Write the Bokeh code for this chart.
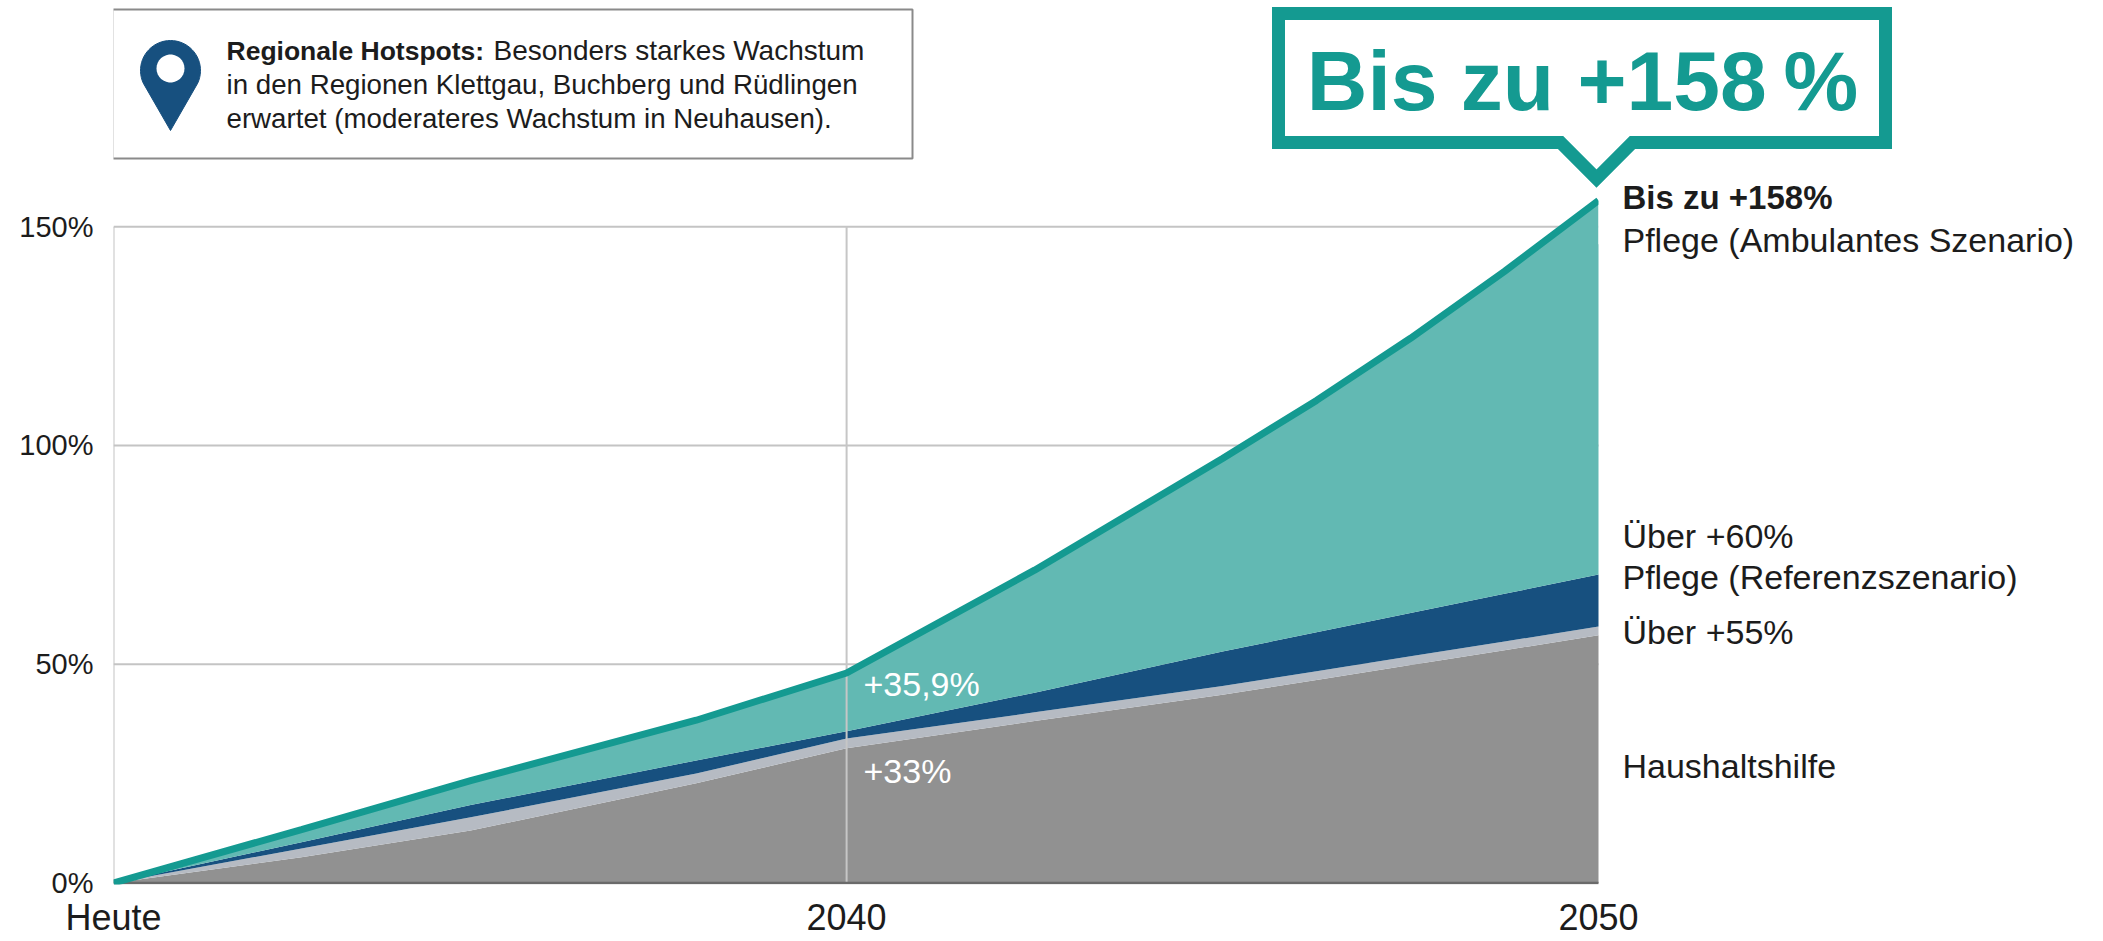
import math
from bokeh.plotting import figure
from bokeh.embed import file_html
from bokeh.resources import INLINE
from bokeh.models import Range1d, FixedTicker, Label, PolyAnnotation

# ---- data ----
years = [2030.25, 2032.75, 2035, 2038, 2040, 2042.5, 2045, 2046.25, 2047.5, 2048.75, 2050]
x_tick_values = [2030.25, 2040, 2050]
x_tick_labels = ["Heute", "2040", "2050"]
y_tick_values = [0, 50, 100, 150]
y_tick_labels = ["0%", "50%", "100%", "150%"]
ambulant = [0, 12.2, 23.4, 37.2, 48, 71.5, 97, 110.3, 124.5, 139.8, 156]
referenz = [0, 9.3, 17.8, 28, 34.7, 43.5, 52.9, 57.3, 61.7, 66.1, 70.5]
haushalt = [0, 7.9, 15, 25, 33, 39, 45, 48.4, 51.8, 55.2, 58.6]
haushalt_base = [0, 5.9, 12, 22.8, 30.8, 37, 43, 46.4, 49.8, 53.2, 56.6]
zeros = [0] * len(years)

TEAL_LINE = "#149A91"
TEAL_FILL = "#62B9B3"
BLUE = "#17507F"
LIGHT = "#B6BBC3"
GREY = "#919191"
INK = "#1c1c1c"
FONT = "Liberation Sans"

W, H = 2103, 941
FL, FB = 113, 884   # frame's left and bottom edge in page pixels; it runs on to the page's top right
PX_YEAR = (1598 - FL) / 19.75
PX_PCT = 4.375

p = figure(width=W, height=H, output_backend="svg", toolbar_location=None,
           x_range=Range1d(2030.25, 2030.25 + (W - FL) / PX_YEAR),
           y_range=Range1d(-0.35, FB / PX_PCT - 0.35),
           min_border_left=FL, min_border_right=0,
           min_border_top=0, min_border_bottom=H - FB)
p.background_fill_color = "white"
p.border_fill_color = "white"
p.outline_line_color = None
p.xgrid.visible = False
p.ygrid.visible = False

# axes
p.xaxis.ticker = FixedTicker(ticks=x_tick_values)
p.xaxis.major_label_overrides = dict(zip(x_tick_values, x_tick_labels))
p.yaxis.ticker = FixedTicker(ticks=y_tick_values)
p.yaxis.major_label_overrides = dict(zip(y_tick_values, y_tick_labels))
for ax, size, stand in ((p.xaxis[0], "36px", 6), (p.yaxis[0], "29px", 14)):
    ax.major_tick_line_color = None
    ax.minor_tick_line_color = None
    ax.major_label_text_font = FONT
    ax.major_label_text_font_size = size
    ax.major_label_text_color = INK
    ax.major_label_standoff = stand
    ax.major_label_text_line_height = 1.0
    ax.axis_line_color = None

# gridlines behind the areas
for v in y_tick_values[1:]:
    p.line([years[0], years[-1]], [v, v], line_color="#c4c4c4", line_width=2)
p.line([years[0], years[0]], [0, 150], line_color="#c4c4c4", line_width=2)

# stacked areas
p.varea(years, zeros, haushalt_base, fill_color=GREY)
p.varea(years, haushalt_base, haushalt, fill_color=LIGHT)
p.varea(years, haushalt, referenz, fill_color=BLUE)
p.varea(years, referenz, ambulant, fill_color=TEAL_FILL)

# 2040 vertical over the areas, base line, top line
p.line([2040, 2040], [0, 150], line_color="#c6c6c6", line_width=2)
p.line([years[0], years[-1]], [0, 0], line_color="#6a6a6a", line_width=2.5)
p.line(years, ambulant, line_color=TEAL_LINE, line_width=7)
# the areas end in a clean vertical edge at the last year
p.quad(left=years[-1], right=years[-1] + 0.3, bottom=ambulant[-1] - 10, top=ambulant[-1] + 5,
       fill_color="white", line_color=None)


# annotation screen units are measured from the frame's lower-left corner
def sx(px):
    return px - FL


def sy(py):
    return FB - py


def label(txt, px, baseline, size, color=INK, bold=False, align="left", font=FONT):
    # the drawn baseline sits about 0.38 em below the anchor
    p.add_layout(Label(x=sx(px), y=sy(baseline - 0.38 * size), x_units="screen", y_units="screen",
                       text=txt, text_font=font, text_font_size=f"{size}px",
                       text_color=color, text_align=align, text_baseline="alphabetic",
                       text_font_style="bold" if bold else "normal"))


def poly(xs, ys, **kw):
    p.add_layout(PolyAnnotation(xs=[sx(v) for v in xs], ys=[sy(v) for v in ys],
                                xs_units="screen", ys_units="screen",
                                fill_alpha=1, line_alpha=1, **kw))


# hotspot box
poly([112, 912, 912, 112], [9, 9, 158, 158], fill_color="white", line_color="#8a8a8a", line_width=2)
# pin
cx, cy, r = 170, 70, 30
tip_y = 130
pin_x, pin_y = [], []
for i in range(0, 41):
    a = math.radians(205 - i * 5.75)
    pin_x.append(cx + r * math.cos(a))
    pin_y.append(cy - r * math.sin(a))
pin_x.append(cx)
pin_y.append(tip_y)
poly(pin_x, pin_y, fill_color=BLUE, line_color=BLUE, line_width=1)
hole = [math.radians(i * 12) for i in range(30)]
poly([cx + 14 * math.cos(a) for a in hole], [68 + 14 * math.sin(a) for a in hole],
     fill_color="white", line_color=None)

label("Regionale Hotspots:", 226, 61, 26.5, bold=True)
label("Besonders starkes Wachstum", 493, 61, 28)
label("in den Regionen Klettgau, Buchberg und Rüdlingen", 226, 95, 27.7)
label("erwartet (moderateres Wachstum in Neuhausen).", 226, 129, 27.7)

# callout
c_x = [1278, 1885, 1885, 1632, 1596, 1560, 1278]
c_y = [13, 13, 142, 142, 178, 142, 142]
poly(c_x, c_y, fill_color="white", line_color=TEAL_LINE, line_width=13, line_join="miter")
label("Bis zu +158\u202f%", 1582, 112, 84, color=TEAL_LINE, bold=True, align="center")

# right-hand labels
label("Bis zu +158%", 1622, 210, 33, bold=True)
label("Pflege (Ambulantes Szenario)", 1622, 252, 34)
label("Über +60%", 1622, 548, 34)
label("Pflege (Referenzszenario)", 1622, 589, 34)
label("Über +55%", 1622, 644, 34)
label("Haushaltshilfe", 1622, 778, 34)

# labels inside the areas
label("+35,9%", 863, 696, 34, color="white")
label("+33%", 863, 783, 34, color="white")

open("out.html", "w").write(file_html(p, INLINE))
